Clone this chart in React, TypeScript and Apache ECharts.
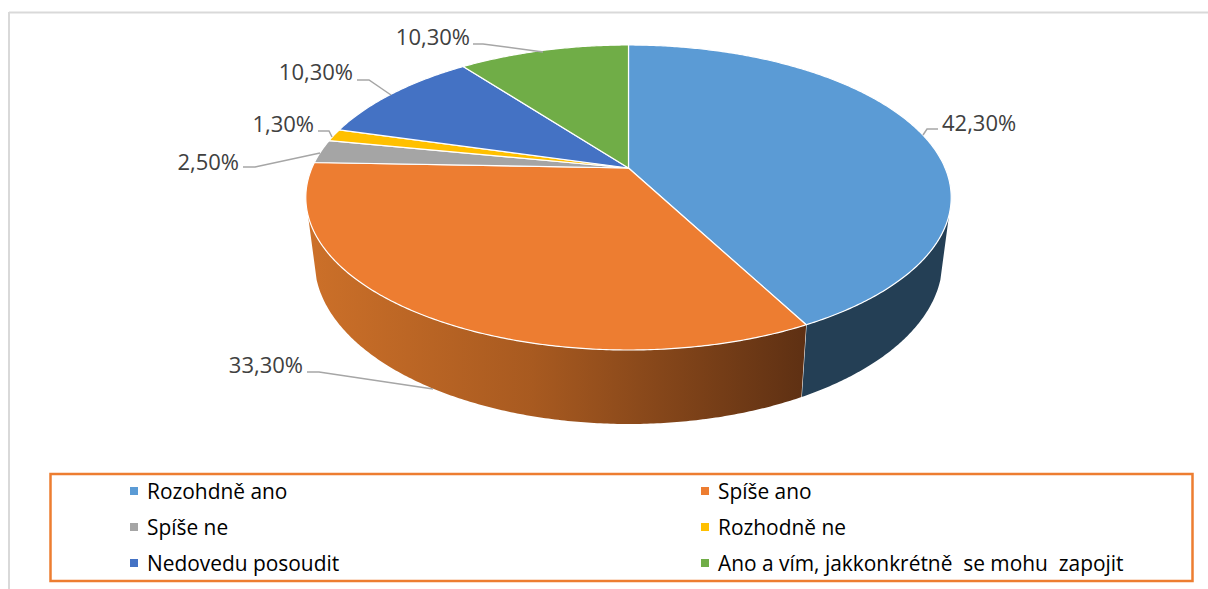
import React, { useEffect, useRef } from "react";
import * as echarts from "echarts";

const categories = ["Rozohdně ano", "Spíše ano", "Spíše ne", "Rozhodně ne", "Nedovedu posoudit", "Ano a vím, jakkonkrétně  se mohu  zapojit"];
const values = [42.3, 33.3, 2.5, 1.3, 10.3, 10.3];
const valueLabels = ["42,30%", "33,30%", "2,50%", "1,30%", "10,30%", "10,30%"];
const topColors = ["#5B9BD5", "#ED7D31", "#A5A5A5", "#FFC000", "#4472C4", "#70AD47"];

const FONT = "'Open Sans', sans-serif";
const total = values.reduce((a, b) => a + b, 0);

// perspective disc: [x0, y0, A, B, k]
const TOP = { x0: 628.5, y0: 168, a: 316.6, b: 146.8, k: 0.1934 };
const BOTTOM = { x0: 628.5, y0: 229.6, a: 308, b: 156.8, k: 0.1934 };
const SIDE_FROM = 107.5;
const SIDE_TO = 252.5;

// label anchor (right edge / centre of text) and leader elbows
const labelLayout = [
  { tx: 942, ty: 122, elbow: [[938, 129], [927, 129], [923, 135]] },
  { tx: 303, ty: 364, elbow: [[307, 372], [319, 372], [433, 389]] },
  { tx: 239, ty: 161, elbow: [[243, 167], [255, 167], [320, 153]] },
  { tx: 314, ty: 123, elbow: [[318, 131], [329, 131], [332, 137]] },
  { tx: 353, ty: 71, elbow: [[357, 80], [369, 80], [391, 95]] },
  { tx: 470, ty: 36, elbow: [[473, 44], [483, 44], [543, 52]] },
];

function project(d: typeof TOP, deg: number): number[] {
  const r = (deg * Math.PI) / 180;
  const X = Math.sin(r);
  const Y = Math.cos(r);
  const w = 1 + d.k * Y;
  return [d.x0 + (d.a * X) / w, d.y0 - (d.b * Y) / w];
}

function arc(d: typeof TOP, from: number, to: number): number[][] {
  const n = Math.max(2, Math.ceil(Math.abs(to - from) * 2));
  const pts: number[][] = [];
  for (let i = 0; i <= n; i++) pts.push(project(d, from + ((to - from) * i) / n));
  return pts;
}

function sideFill(i: number) {
  if (i === 0) return "#243F55";
  return new echarts.graphic.LinearGradient(0, 0, 1, 0, [
    { offset: 0, color: "#CC7029" },
    { offset: 0.45, color: "#A85A20" },
    { offset: 1, color: "#5E3013" },
  ]);
}

function renderSlice(i: number) {
  return (_params: any, api: any) => {
    const value = api.value(0);
    const before = values.slice(0, i).reduce((a, b) => a + b, 0);
    const from = (before / total) * 360;
    const to = from + (value / total) * 360;
    const children: any[] = [];
    const a = Math.max(from, SIDE_FROM);
    const b = Math.min(to, SIDE_TO);
    if (b > a) {
      const pts = [...arc(TOP, a, b), ...arc(BOTTOM, b, a)];
      children.push({
        type: "polygon",
        shape: { points: pts },
        style: { fill: sideFill(i), stroke: "none" },
      });
      if (to < SIDE_TO) {
        children.push({
          type: "line",
          shape: { x1: project(TOP, to)[0], y1: project(TOP, to)[1], x2: project(BOTTOM, to)[0], y2: project(BOTTOM, to)[1] },
          style: { stroke: "#FFFFFF", lineWidth: 1 },
        });
      }
    }
    children.push({
      type: "polygon",
      shape: { points: [[TOP.x0, TOP.y0], ...arc(TOP, from, to)] },
      style: { fill: topColors[i], stroke: "#FFFFFF", lineWidth: 1.2, lineJoin: "round" },
    });
    const lay = labelLayout[i];
    children.push({
      type: "polyline",
      shape: { points: lay.elbow },
      style: { stroke: "#A6A6A6", lineWidth: 1.5, fill: "none" },
    });
    children.push({
      type: "text",
      style: {
        x: lay.tx,
        y: lay.ty,
        text: valueLabels[i],
        fill: "#404040",
        font: `22px ${FONT}`,
        align: i === 0 ? "left" : "right",
        verticalAlign: "middle",
      },
    });
    return { type: "group", children };
  };
}

export default function App() {
  const ref = useRef<HTMLDivElement>(null);
  useEffect(() => {
    const chart = echarts.init(ref.current!, null, { renderer: "svg" });
    const legendBase = {
      orient: "vertical" as const,
      top: 480,
      icon: "rect",
      itemWidth: 8,
      itemHeight: 8,
      itemGap: 14,
      selectedMode: false,
      padding: 0,
      textStyle: { fontFamily: FONT, fontSize: 20.9, color: "#000000", lineHeight: 22, padding: [0, 0, 0, 4] },
    };
    chart.setOption({
      animation: false,
      backgroundColor: "#FFFFFF",
      legend: [
        { ...legendBase, left: 130, data: [categories[0], categories[2], categories[4]] },
        { ...legendBase, left: 701, data: [categories[1], categories[3], categories[5]] },
      ],
      graphic: [
        { type: "line", shape: { x1: 9, y1: 12.5, x2: 1208, y2: 12.5 }, style: { stroke: "#D9D9D9", lineWidth: 2 }, silent: true },
        { type: "line", shape: { x1: 9, y1: 12, x2: 9, y2: 589 }, style: { stroke: "#D9D9D9", lineWidth: 2 }, silent: true },
        { type: "rect", shape: { x: 50.5, y: 474, width: 1142, height: 107 }, style: { fill: "#FFFFFF", stroke: "#ED7D31", lineWidth: 2.5 }, silent: true, z: -1 },
      ],
      series: categories.map((name, i) => ({
        type: "custom",
        name,
        coordinateSystem: "none",
        itemStyle: { color: topColors[i] },
        renderItem: renderSlice(i),
        data: [values[i]],
        silent: true,
      })),
    });
    return () => chart.dispose();
  }, []);
  return <div ref={ref} style={{ position: "fixed", left: 0, top: 0, width: 1208, height: 589 }} />;
}
